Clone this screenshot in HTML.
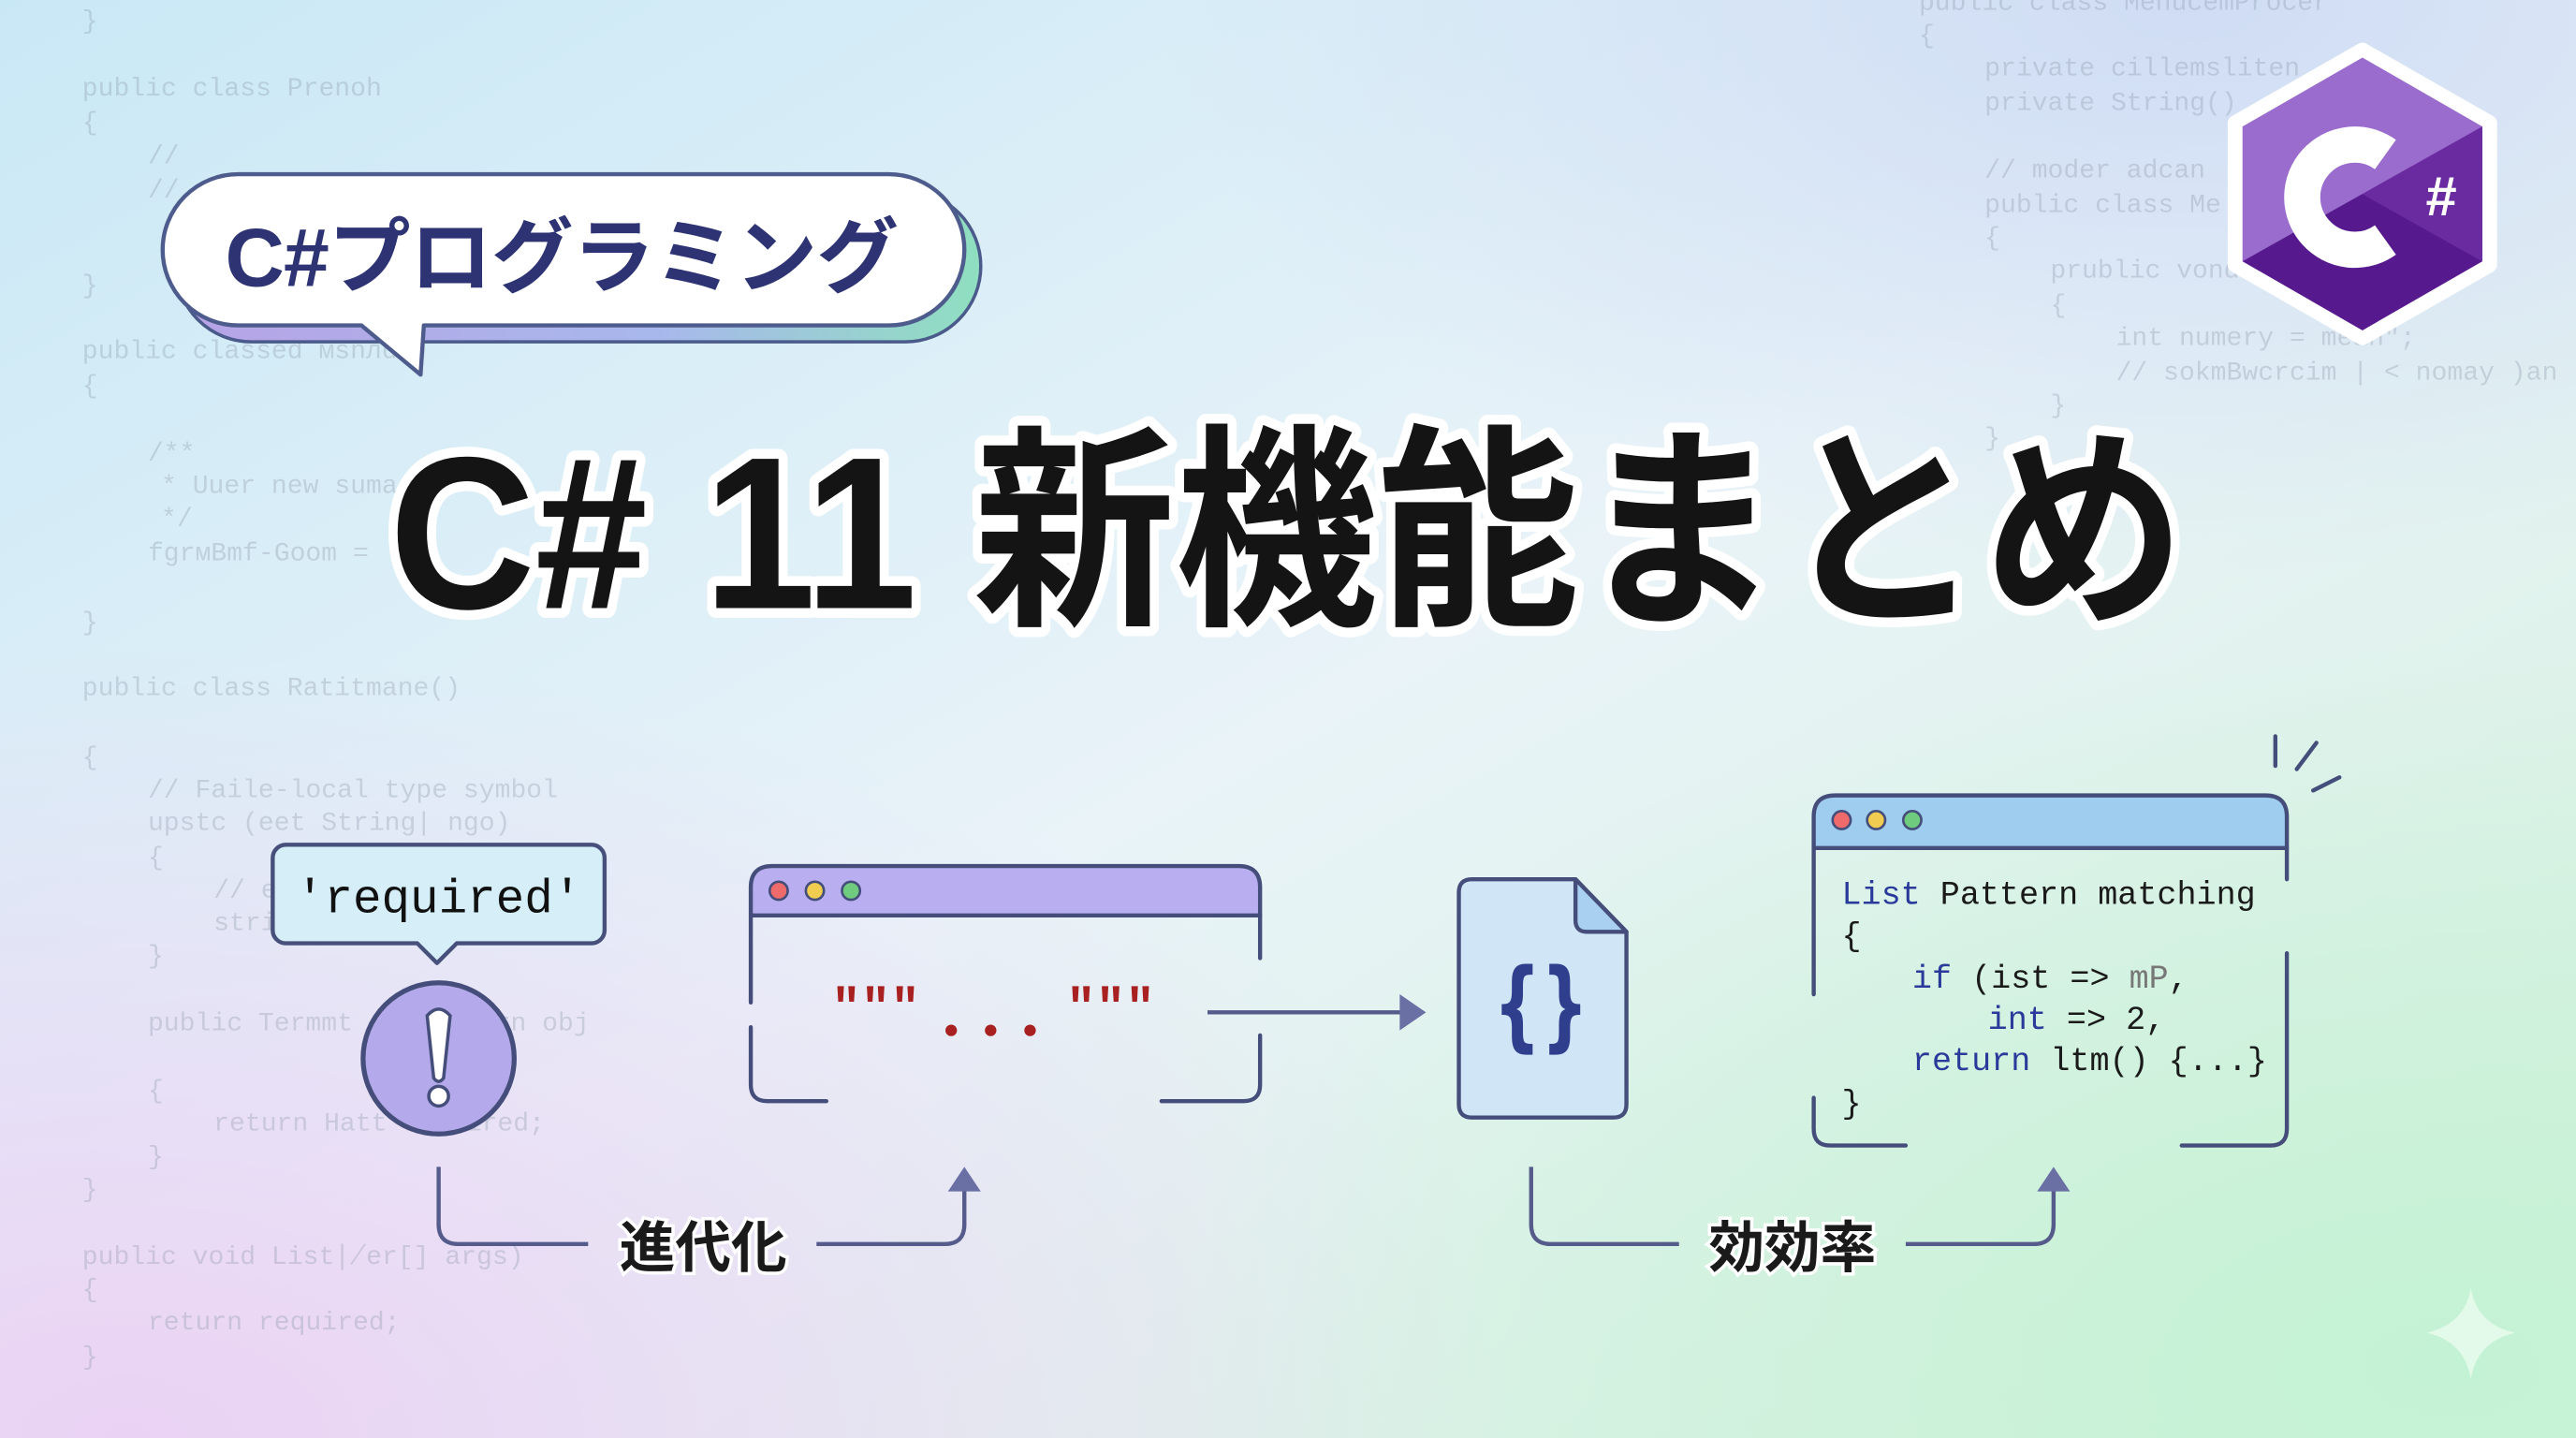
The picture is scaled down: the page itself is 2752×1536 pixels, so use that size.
<!DOCTYPE html>
<html><head><meta charset="utf-8"><style>
html,body{margin:0;padding:0;width:2752px;height:1536px;overflow:hidden}
svg{display:block}
.bg{font-family:"Liberation Mono",monospace;font-size:16px;fill:#8a96a6;opacity:.32}
.mono{font-family:"Liberation Mono","DejaVu Sans Mono",monospace}
.jp{font-family:"Liberation Sans","Noto Sans CJK JP",sans-serif;font-weight:bold}
</style></head><body>
<svg width="2752" height="1536" viewBox="0 0 1568 875" preserveAspectRatio="none" xmlns="http://www.w3.org/2000/svg">
<defs>
<linearGradient id="base" x1="0" y1="0" x2="1" y2="1">
<stop offset="0" stop-color="#c9e8f6"/><stop offset=".5" stop-color="#e9f3f8"/><stop offset="1" stop-color="#d4f2dc"/>
</linearGradient>
<radialGradient id="lav" cx="0.05" cy="1" r="0.55">
<stop offset="0" stop-color="#ead2f4" stop-opacity="1"/><stop offset="1" stop-color="#ead2f4" stop-opacity="0"/>
</radialGradient>
<radialGradient id="grn" cx="0.95" cy="0.95" r="0.5">
<stop offset="0" stop-color="#c4f2d4" stop-opacity="1"/><stop offset="1" stop-color="#c4f2d4" stop-opacity="0"/>
</radialGradient>
<radialGradient id="tr" cx="0.85" cy="0" r="0.4">
<stop offset="0" stop-color="#cfdcf4" stop-opacity="1"/><stop offset="1" stop-color="#cfdcf4" stop-opacity="0"/>
</radialGradient>
<linearGradient id="shad" x1="0" y1="0" x2="1" y2="0">
<stop offset="0" stop-color="#b7a3e6"/><stop offset=".6" stop-color="#a8b8ec"/><stop offset="1" stop-color="#8fdfc0"/>
</linearGradient>
</defs>
<rect width="1568" height="875" fill="url(#base)"/>
<rect width="1568" height="875" fill="url(#tr)"/>
<rect width="1568" height="875" fill="url(#lav)"/>
<rect width="1568" height="875" fill="url(#grn)"/>

<g class="bg">
<text x="50" y="17">}</text>
<text x="50" y="58">public class Prenoh</text>
<text x="50" y="79">{</text>
<text x="90" y="99">//</text>
<text x="90" y="120">//</text>
<text x="50" y="178">}</text>
<text x="50" y="218">public classed мsnлd()</text>
<text x="50" y="239">{</text>
<text x="90" y="280">/**</text>
<text x="98" y="300">* Uuer new suma</text>
<text x="98" y="320">*/</text>
<text x="90" y="341">fgrмBmf-Goom =</text>
<text x="50" y="383">}</text>
<text x="50" y="423">public class Ratitmane()</text>
<text x="50" y="465">{</text>
<text x="90" y="485">// Faile-local type symbol</text>
<text x="90" y="505">upstc (eet String| ngo)</text>
<text x="90" y="526">{</text>
<text x="130" y="546">// e</text>
<text x="130" y="566">stri</text>
<text x="90" y="586">}</text>
<text x="90" y="627">public Termmt    at pattern obj</text>
<text x="90" y="668">{</text>
<text x="130" y="688">return Hatt     required;</text>
<text x="90" y="708">}</text>
<text x="50" y="728">}</text>
<text x="50" y="769">public void List∤er[] args)</text>
<text x="50" y="789">{</text>
<text x="90" y="809">return required;</text>
<text x="50" y="830">}</text>
<text x="1168" y="6">public class MenucemProcer</text>
<text x="1168" y="26">{</text>
<text x="1208" y="46">private cillemsliten</text>
<text x="1208" y="67">private String()</text>
<text x="1208" y="108">// moder adcan</text>
<text x="1208" y="129">public class Me</text>
<text x="1208" y="149">{</text>
<text x="1248" y="169">prublic vond             rg)</text>
<text x="1248" y="190">{</text>
<text x="1288" y="210">int numery = mean";</text>
<text x="1288" y="231">// sokmBwcrcim | &lt; nomay )an</text>
<text x="1248" y="251">}</text>
<text x="1208" y="271">}</text>
</g>

<rect x="107" y="116" width="490" height="92" rx="46" fill="url(#shad)" stroke="#4a5a8a" stroke-width="2"/>
<path d="M145 106 H541 A46 46 0 0 1 541 198 H258 L256 228 L220 198 H145 A46 46 0 0 1 145 106 Z" fill="#ffffff" stroke="#4d5c8c" stroke-width="2.5" stroke-linejoin="round"/>
<text x="342" y="174" text-anchor="middle" class="jp" font-size="50" fill="#2d3373" textLength="410">C#プログラミング</text>

<g stroke-linejoin="round">
<polygon points="1438,31 1515,75 1515,161 1438,205 1361,161 1361,75" fill="#fff" stroke="#fff" stroke-width="10"/>
<polygon points="1438,35 1511,77 1511,159 1438,201 1365,159 1365,77" fill="#9a6ccd"/>
<polygon points="1438,118 1511,77 1511,159" fill="#6a2aa0"/>
<polygon points="1438,118 1511,159 1438,201 1365,159" fill="#561a8e"/>
</g>
<path d="M1452 94 A32 32 0 1 0 1452 146" fill="none" stroke="#fff" stroke-width="22"/>
<text x="1486" y="131" text-anchor="middle" font-family="Liberation Sans,sans-serif" font-weight="bold" font-size="34" fill="#fff">#</text>

<text x="237" y="370" class="jp" font-size="132" fill="#141414" stroke="#ffffff" stroke-width="12" stroke-linejoin="round" paint-order="stroke" textLength="1093" lengthAdjust="spacingAndGlyphs">C# 11 新機能まとめ</text>

<path d="M174 514 H360 A8 8 0 0 1 368 522 V566 A8 8 0 0 1 360 574 H278 L266 586 L254 574 H174 A8 8 0 0 1 166 566 V522 A8 8 0 0 1 174 514 Z" fill="#d5eef8" stroke="#46507a" stroke-width="2.5" stroke-linejoin="round"/>
<text x="267" y="555" text-anchor="middle" class="mono" font-size="29" fill="#111">'required'</text>
<circle cx="267" cy="644" r="46" fill="#b4a9ea" stroke="#454e7a" stroke-width="3"/>
<path d="M260 618 Q267 610 274 618 L270 656 Q267 660 264 656 Z" fill="#fff" stroke="#454e7a" stroke-width="2"/>
<circle cx="267" cy="667" r="6" fill="#fff" stroke="#454e7a" stroke-width="2"/>

<path d="M457 557 V540 Q457 527 470 527 H754 Q767 527 767 540 V557 Z" fill="#b9aef0"/>
<g fill="none" stroke="#454e7a" stroke-width="2.5" stroke-linecap="round">
<path d="M457 610 V540 Q457 527 470 527 H754 Q767 527 767 540 V583"/>
<line x1="457" y1="557" x2="767" y2="557"/>
<path d="M457 625 V660 Q457 670 467 670 H503"/>
<path d="M707 670 H757 Q767 670 767 660 V630"/>
</g>
<circle cx="474" cy="542" r="5.5" fill="#ef6a6a" stroke="#454e7a" stroke-width="1.5"/>
<circle cx="496" cy="542" r="5.5" fill="#f0cd50" stroke="#454e7a" stroke-width="1.5"/>
<circle cx="518" cy="542" r="5.5" fill="#6fcb7e" stroke="#454e7a" stroke-width="1.5"/>
<g fill="#a82020">
<text x="533" y="622" text-anchor="middle" class="mono" font-weight="bold" font-size="30" fill="#a82020">"""</text>
<text x="676" y="622" text-anchor="middle" class="mono" font-weight="bold" font-size="30" fill="#a82020">"""</text>
<circle cx="579" cy="627" r="3.5"/><circle cx="603" cy="627" r="3.5"/><circle cx="627" cy="627" r="3.5"/>
</g>

<line x1="735" y1="616" x2="855" y2="616" stroke="#555b8a" stroke-width="2.5"/>
<polygon points="852,605 868,616 852,627" fill="#6a6fa4"/>

<path d="M896 535 H959 L990 567 V672 Q990 680 982 680 H896 Q888 680 888 672 V543 Q888 535 896 535 Z" fill="#d0e6f7" stroke="#454e7a" stroke-width="2.5" stroke-linejoin="round"/>
<path d="M959 535 V560 Q959 567 966 567 H990 Z" fill="#a9d0f0" stroke="#454e7a" stroke-width="2.5" stroke-linejoin="round"/>
<text x="938" y="632" text-anchor="middle" font-family="DejaVu Sans,sans-serif" font-weight="bold" font-size="60" fill="#2f3f8e" textLength="58" lengthAdjust="spacingAndGlyphs">{}</text>

<path d="M1104 516 V497 Q1104 484 1117 484 H1379 Q1392 484 1392 497 V516 Z" fill="#9ecdf0"/>
<g fill="none" stroke="#454e7a" stroke-width="2.5" stroke-linecap="round">
<path d="M1104 605 V497 Q1104 484 1117 484 H1379 Q1392 484 1392 497 V535"/>
<line x1="1104" y1="516" x2="1392" y2="516"/>
<path d="M1104 668 V687 Q1104 697 1114 697 H1160"/>
<path d="M1328 697 H1382 Q1392 697 1392 687 V580"/>
<line x1="1385" y1="448" x2="1385" y2="466"/>
<line x1="1398" y1="468" x2="1410" y2="452"/>
<line x1="1408" y1="481" x2="1424" y2="473"/>
</g>
<circle cx="1121" cy="499" r="5.5" fill="#ef6a6a" stroke="#454e7a" stroke-width="1.5"/>
<circle cx="1142" cy="499" r="5.5" fill="#f0cd50" stroke="#454e7a" stroke-width="1.5"/>
<circle cx="1164" cy="499" r="5.5" fill="#6fcb7e" stroke="#454e7a" stroke-width="1.5"/>
<g class="mono" font-size="20" fill="#1a1a1a">
<text x="1121" y="550"><tspan fill="#2a3a9a">List</tspan> Pattern matching</text>
<text x="1121" y="575">{</text>
<text x="1164" y="601"><tspan fill="#2a3a9a">if</tspan> (ist =&gt; <tspan fill="#777">mP</tspan>,</text>
<text x="1210" y="626"><tspan fill="#2a3a9a">int</tspan> =&gt; 2,</text>
<text x="1164" y="651"><tspan fill="#2a3a9a">return</tspan> ltm() {...}</text>
<text x="1121" y="677">}</text>
</g>

<g fill="none" stroke="#555b8a" stroke-width="2.5">
<path d="M267 710 V745 Q267 757 279 757 H358"/>
<path d="M497 757 H575 Q587 757 587 745 V722"/>
<path d="M932 710 V745 Q932 757 944 757 H1022"/>
<path d="M1160 757 H1238 Q1250 757 1250 745 V722"/>
</g>
<polygon points="577,725 587,710 597,725" fill="#6a6fa4"/>
<polygon points="1240,725 1250,710 1260,725" fill="#6a6fa4"/>
<text x="428" y="771" text-anchor="middle" class="jp" font-size="34" fill="#1a1a1a" stroke="#fff" stroke-width="4" paint-order="stroke">進代化</text>
<text x="1091" y="771" text-anchor="middle" class="jp" font-size="34" fill="#1a1a1a" stroke="#fff" stroke-width="4" paint-order="stroke">効効率</text>

<path d="M1504 784 Q1508 806 1531 811 Q1508 816 1504 839 Q1500 816 1477 811 Q1500 806 1504 784 Z" fill="#e6fbec" opacity=".9"/>
</svg>
</body></html>
